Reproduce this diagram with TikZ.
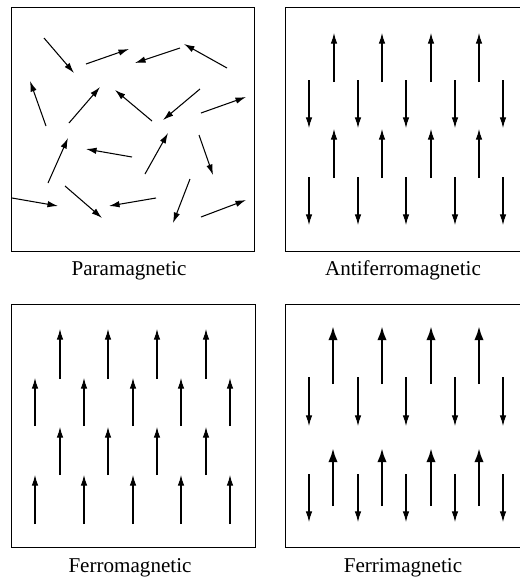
\documentclass[tikz,border=0pt]{standalone}
\usepackage{fontspec}
\setmainfont{Liberation Serif}
\usetikzlibrary{arrows.meta}
\tikzset{
	spin/.style={line width=0.9pt, -{Latex[length=9pt,width=5.5pt]}},
	bigspin/.style={line width=2.2pt, -{Latex[length=12pt,width=8pt]}},
	panel/.style={line width=0.8pt},
	caption/.style={anchor=base, inner sep=0pt, font=\fontsize{18}{20}\selectfont}
}

\begin{document}
\begin{tikzpicture}[x=0.03cm, y=-0.03cm]
		%%%%% START %%%%%
		\useasboundingbox (0, 0) rectangle (519, 578);
		
		% paramagnetic
		\draw[panel] (11, 7) rectangle (254, 251);
		\draw[spin] (44, 38) -- (74, 73);
		\draw[spin] (86, 64) -- (129, 49);
		\draw[spin] (180, 48) -- (135, 63);
		\draw[spin] (227, 68) -- (184, 44);
		\draw[spin] (46, 126) -- (30, 81);
		\draw[spin] (69, 123) -- (100, 87);
		\draw[spin] (152, 121) -- (115, 90);
		\draw[spin] (200, 89) -- (163, 120);
		\draw[spin] (201, 113) -- (246, 97);
		\draw[spin] (48, 183) -- (68, 138);
		\draw[spin] (132, 157) -- (86, 149);
		\draw[spin] (145, 174) -- (168, 133);
		\draw[spin] (199, 135) -- (213, 175);
		\draw[spin] (12, 198) -- (58, 206);
		\draw[spin] (65, 186) -- (102, 218);
		\draw[spin] (156, 198) -- (109, 206);
		\draw[spin] (190, 179) -- (173, 223);
		\draw[spin] (201, 217) -- (246, 200);
		\node[caption] (para) at (129, 275) {Paramagnetic};
		
		% antiferromagnetic
		\draw[panel] (285, 7) rectangle (520, 251);
		\foreach \x in {334, 382, 431, 479} {
			\draw[spin] (\x, 82) -- (\x, 33);
			\draw[spin] (\x, 178) -- (\x, 129);
		}
		\foreach \x in {309, 358, 406, 455, 503} {
			\draw[spin] (\x, 80) -- (\x, 128);
			\draw[spin] (\x, 177) -- (\x, 225);
		}
		\node[caption] (anti) at (403, 275) {Antiferromagnetic};
		
		% ferromagnetic
		\draw[panel] (11, 304) rectangle (255, 547);
		\foreach \x in {60, 108, 157, 206} {
			\draw[spin] (\x, 379) -- (\x, 329);
			\draw[spin] (\x, 475) -- (\x, 427);
		}
		\foreach \x in {35, 84, 133, 181, 230} {
			\draw[spin] (\x, 426) -- (\x, 378);
			\draw[spin] (\x, 524) -- (\x, 475);
		}
		\node[caption] (ferro) at (130, 572) {Ferromagnetic};
		
		% ferrimagnetic
		\draw[panel] (285, 304) rectangle (520, 547);
		\foreach \x in {333, 382, 431, 479} {
			\draw[bigspin] (\x, 384) -- (\x, 326);
			\draw[bigspin] (\x, 506) -- (\x, 448);
		}
		\foreach \x in {309, 358, 406, 455, 503} {
			\draw[spin] (\x, 377) -- (\x, 426);
			\draw[spin] (\x, 474) -- (\x, 522);
		}
		\node[caption] (ferri) at (403, 572) {Ferrimagnetic};
		%%%%% END %%%%%
\end{tikzpicture}
\end{document}
